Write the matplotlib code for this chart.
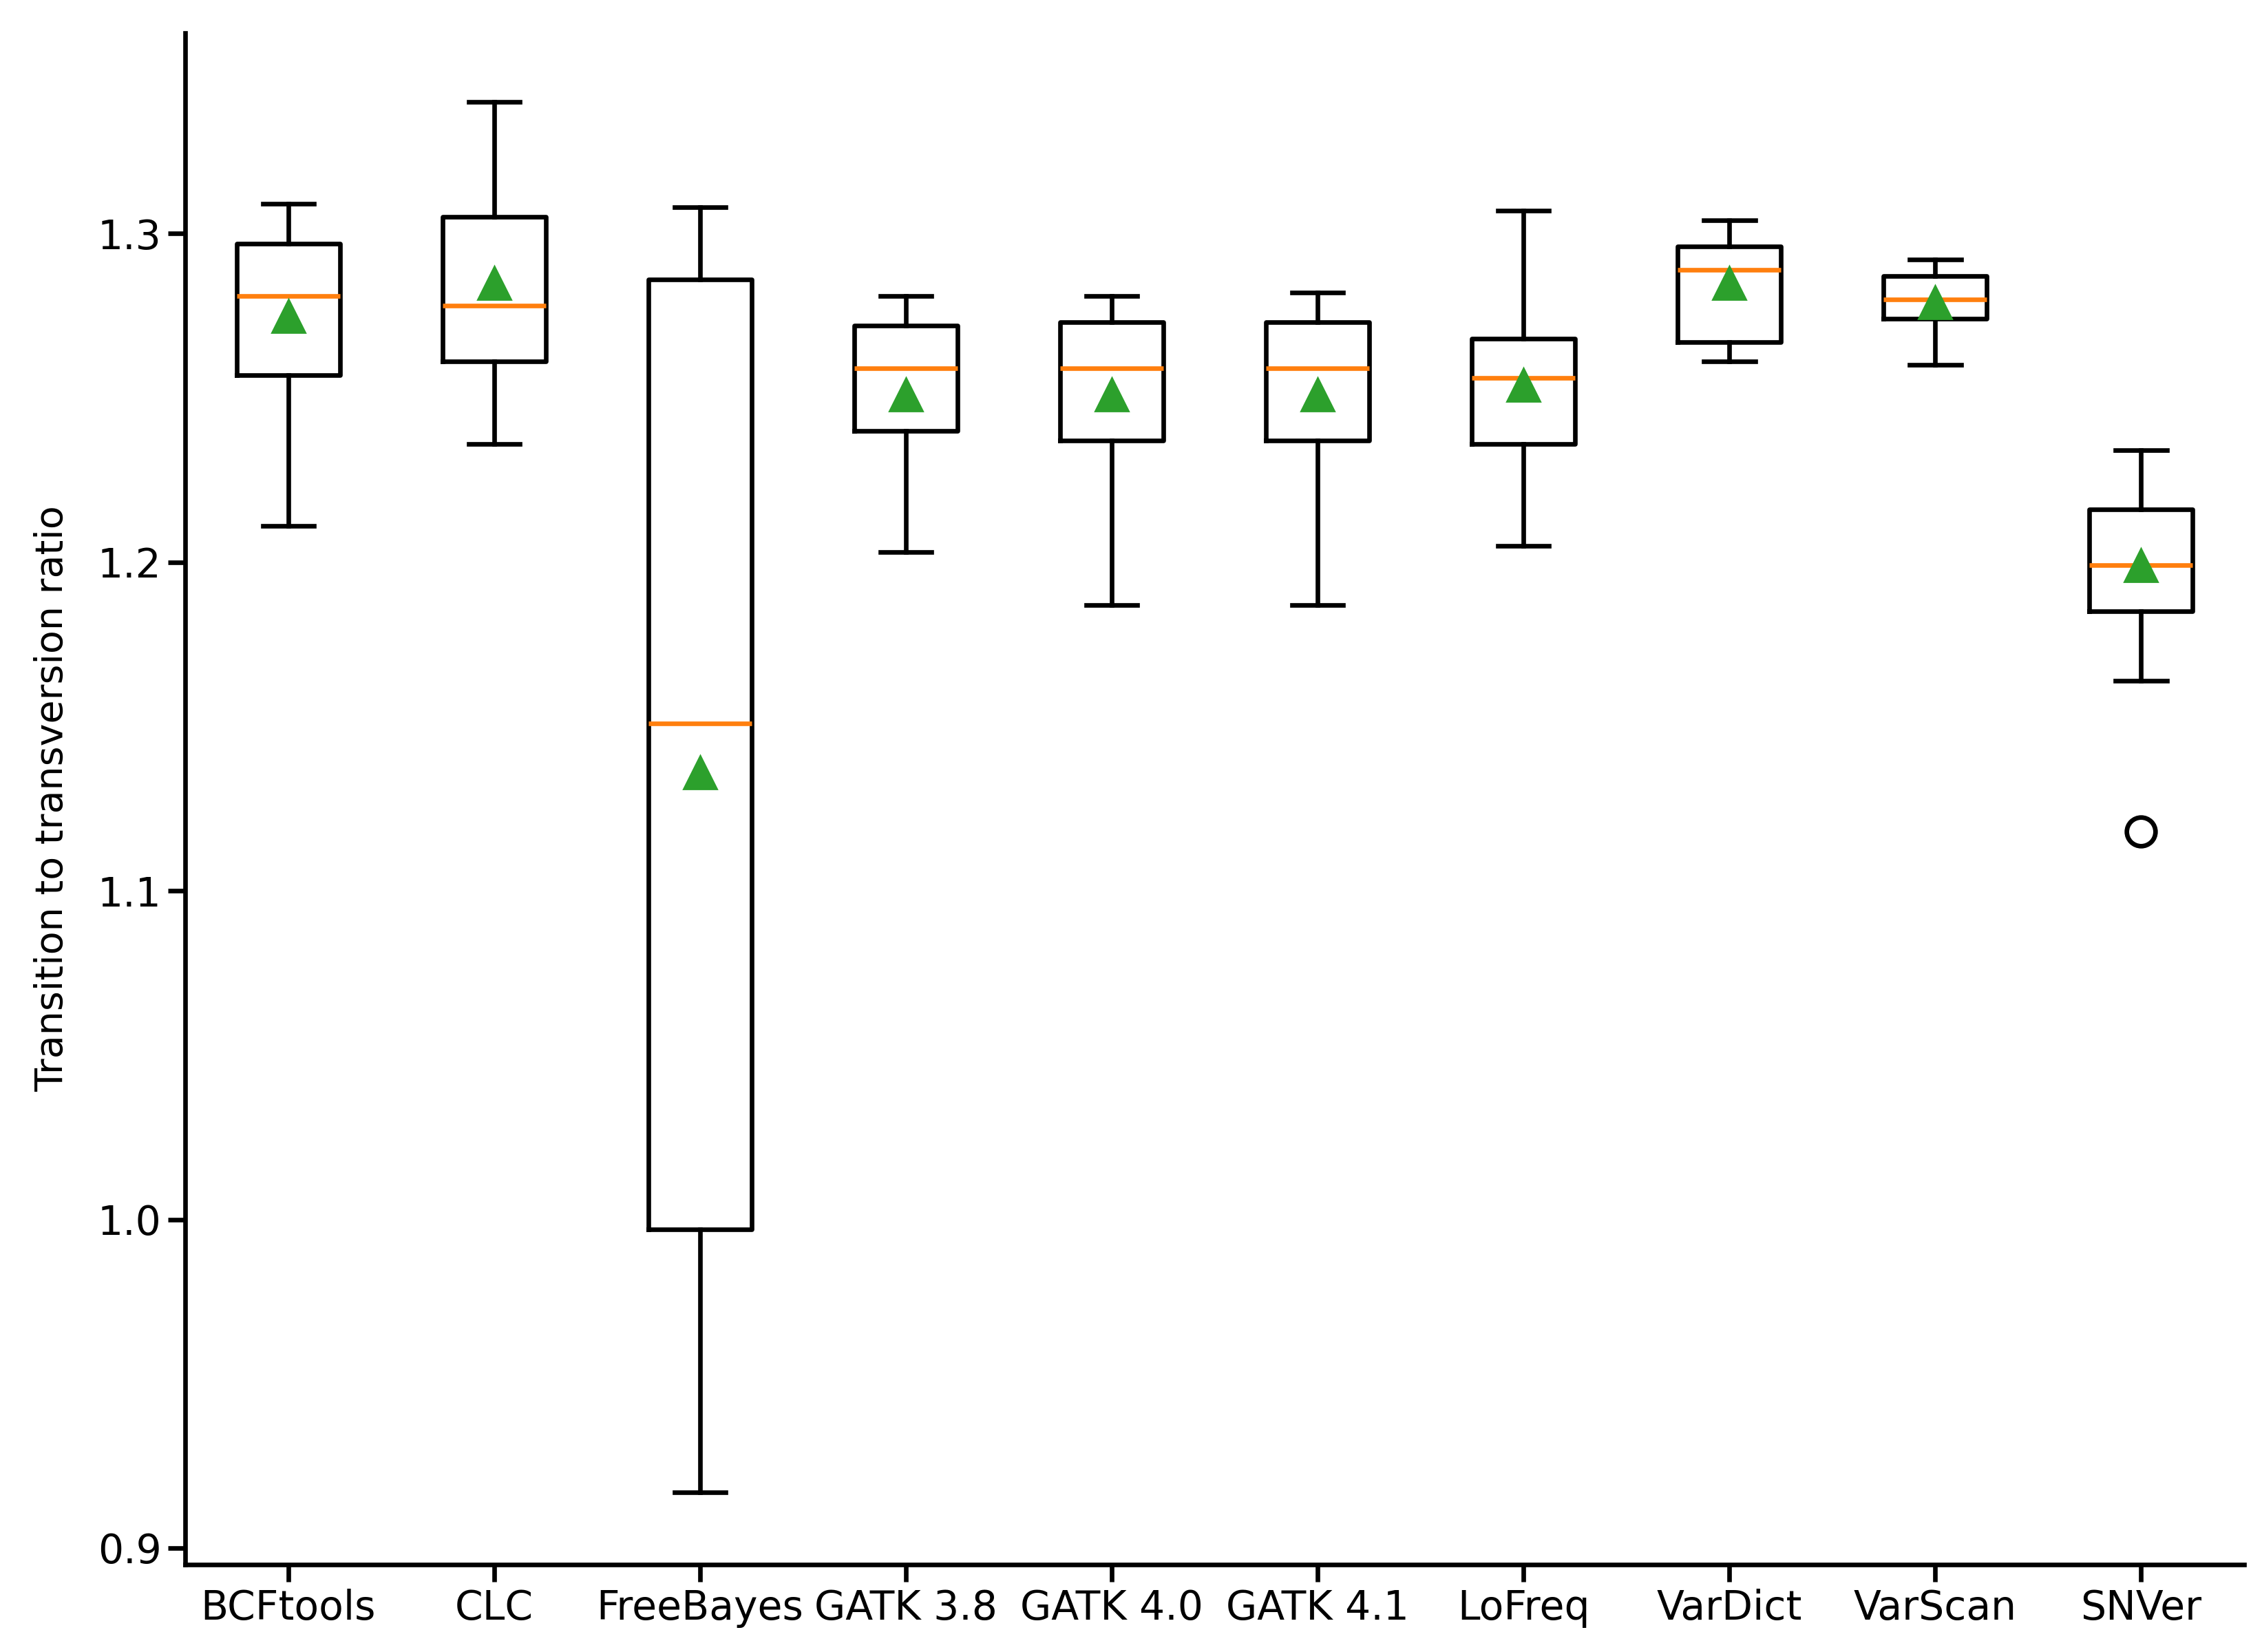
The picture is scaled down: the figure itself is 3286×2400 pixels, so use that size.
import matplotlib
matplotlib.use("Agg")
import matplotlib.pyplot as plt

labels = ["BCFtools", "CLC", "FreeBayes", "GATK 3.8", "GATK 4.0", "GATK 4.1", "LoFreq", "VarDict", "VarScan", "SNVer"]
whislo = [1.211, 1.236, 0.917, 1.203, 1.187, 1.187, 1.205, 1.261, 1.260, 1.164]
q1 = [1.257, 1.261, 0.997, 1.240, 1.237, 1.237, 1.236, 1.267, 1.274, 1.185]
med = [1.281, 1.278, 1.151, 1.259, 1.259, 1.259, 1.256, 1.289, 1.280, 1.199]
q3 = [1.297, 1.305, 1.286, 1.272, 1.273, 1.273, 1.268, 1.296, 1.287, 1.216]
whishi = [1.309, 1.340, 1.308, 1.281, 1.281, 1.282, 1.307, 1.304, 1.292, 1.234]
means = [1.275, 1.285, 1.136, 1.251, 1.251, 1.251, 1.254, 1.285, 1.279, 1.199]
fliers = [[], [], [], [], [], [], [], [], [], [1.118]]

stats = [dict(label=l, whislo=a, q1=b, med=c, q3=d, whishi=e, mean=m, fliers=f)
         for l, a, b, c, d, e, m, f in zip(labels, whislo, q1, med, q3, whishi, means, fliers)]

fig = plt.figure(figsize=(16.43, 12), dpi=200)
ax = fig.add_axes([0.082, 0.053, 0.91, 0.927])
lw = 2.4
ax.bxp(stats, showmeans=True, widths=0.5,
       boxprops=dict(linewidth=lw, color="black"),
       whiskerprops=dict(linewidth=lw, color="black"),
       capprops=dict(linewidth=lw, color="black"),
       medianprops=dict(linewidth=lw, color="#ff7f0e"),
       meanprops=dict(marker="^", markerfacecolor="#2ca02c", markeredgecolor="#2ca02c", markersize=17),
       flierprops=dict(marker="o", markerfacecolor="none", markeredgecolor="black", markersize=15, markeredgewidth=lw))
ax.set_xlim(0.5, 10.5)
ax.set_ylim(0.895, 1.361)
ax.set_yticks([0.9, 1.0, 1.1, 1.2, 1.3])
ax.set_ylabel("Transition to transversion ratio", fontsize=20, labelpad=14)
ax.tick_params(labelsize=21, width=lw, length=9)
for s in ["top", "right"]:
    ax.spines[s].set_visible(False)
for s in ["left", "bottom"]:
    ax.spines[s].set_linewidth(lw)
fig.savefig("out.png", dpi=200)
